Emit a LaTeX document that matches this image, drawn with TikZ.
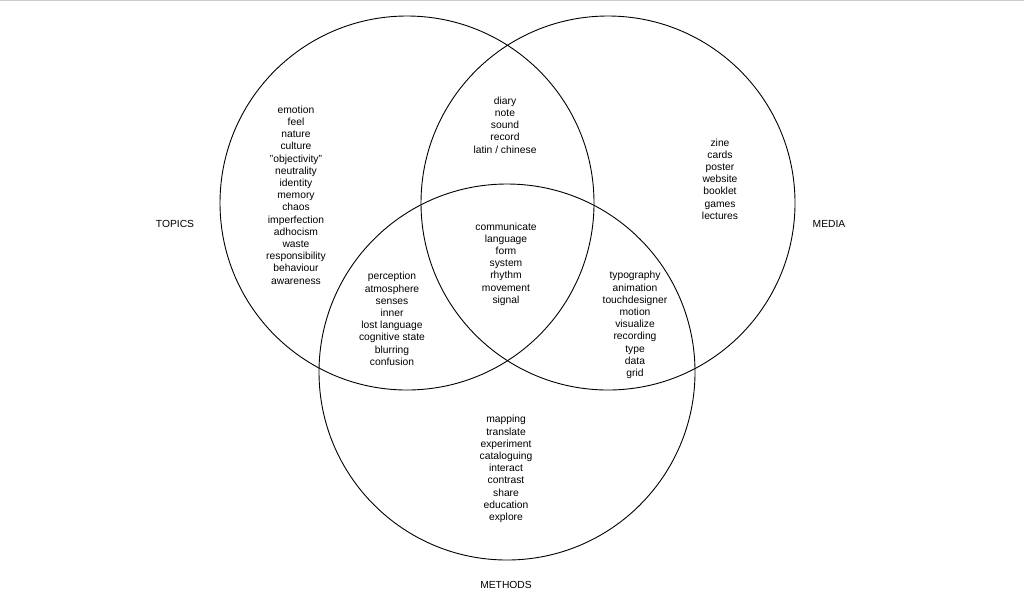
\documentclass[tikz,border=0pt]{standalone}
\usepackage{fontspec}
\setmainfont{Liberation Sans}
\begin{document}
\begin{tikzpicture}[x=1pt,y=-1pt,
  circ/.style={draw=black,line width=0.9pt},
  lst/.style={align=center,font=\fontsize{10.3}{12.2}\selectfont,inner sep=0pt},
  lab/.style={font=\fontsize{10.3}{12.2}\selectfont,inner sep=0pt}]
\useasboundingbox[fill=white] (0,0) rectangle (1024,598);
\draw[gray!40] (0,0.5) -- (1024,0.5);
\draw[circ] (407,203) circle (187);
\draw[circ] (608,203) circle (187);
\draw[circ] (507,372) circle (188);
\node[lst] (topics) at (296,195) {emotion\\feel\\nature\\culture\\"objectivity"\\neutrality\\identity\\memory\\chaos\\imperfection\\adhocism\\waste\\responsibility\\behaviour\\awareness};
\node[lst] (tm) at (505,125) {diary\\note\\sound\\record\\latin / chinese};
\node[lst] (media) at (720,179) {zine\\cards\\poster\\website\\booklet\\games\\lectures};
\node[lst] (all) at (506,264) {communicate\\language\\form\\system\\rhythm\\movement\\signal};
\node[lst] (tb) at (392,319) {perception\\atmosphere\\senses\\inner\\lost language\\cognitive state\\blurring\\confusion};
\node[lst] (mb) at (635,325) {typography\\animation\\touchdesigner\\motion\\visualize\\recording\\type\\data\\grid};
\node[lst] (methods) at (506,469) {mapping\\translate\\experiment\\cataloguing\\interact\\contrast\\share\\education\\explore};
\node[lab] (lt) at (175,224) {TOPICS};
\node[lab] (lm) at (829,224) {MEDIA};
\node[lab] (lme) at (506,585) {METHODS};
\end{tikzpicture}
\end{document}
